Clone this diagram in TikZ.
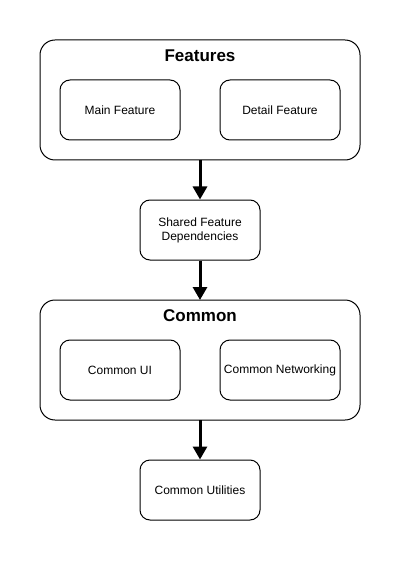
\documentclass[tikz,border=0pt]{standalone}
\usepackage{fontspec}
\setmainfont{Liberation Sans}
\usetikzlibrary{arrows.meta}
\begin{document}
\begin{tikzpicture}[x=1pt,y=-1pt,
  outerbox/.style={draw=black,line width=1pt,rounded corners=15pt,fill=white},
  innerbox/.style={draw=black,line width=1pt,rounded corners=10pt,minimum width=120pt,minimum height=60pt,inner sep=0pt,align=center,font=\fontsize{12}{14}\selectfont},
  title/.style={font=\fontsize{17}{19}\selectfont\bfseries},
  conn/.style={line width=3pt,-{Triangle[length=13pt,width=14pt]}}]
\useasboundingbox[fill=white] (0,0) rectangle (401,561);
\draw[outerbox] (40,40) rectangle (360,160);
\coordinate (fb) at (200,160);
\node[title] (ft) at (200,56) {Features};
\node[innerbox] (mf) at (120,110) {Main Feature};
\node[innerbox] (df) at (280,110) {Detail Feature};
\node[innerbox] (sfd) at (200,230) {Shared Feature\\Dependencies};
\draw[outerbox] (40,300) rectangle (360,420);
\coordinate (ct) at (200,300);
\coordinate (cb) at (200,420);
\node[title] (cmt) at (200,316) {Common};
\node[innerbox] (cui) at (120,370) {Common UI};
\node[innerbox] (cn) at (280,370) {Common Networking};
\node[innerbox] (cu) at (200,490) {Common Utilities};
\draw[conn] (fb) -- (sfd.north);
\draw[conn] (sfd.south) -- (ct);
\draw[conn] (cb) -- (cu.north);
\end{tikzpicture}
\end{document}
